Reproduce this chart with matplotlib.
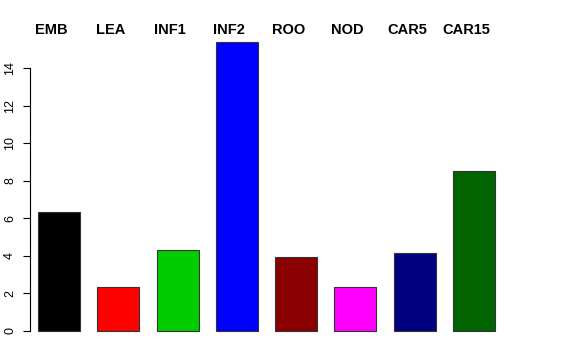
import matplotlib.pyplot as plt
import matplotlib.transforms as mtransforms

plt.rcParams['font.family'] = ['Liberation Sans', 'DejaVu Sans']

tissues = ['EMB', 'LEA', 'INF1', 'INF2', 'ROO', 'NOD', 'CAR5', 'CAR15']
values = [6.36, 2.35, 4.33, 15.39, 3.96, 2.35, 4.17, 8.55]
colors = ['#000000', '#FF0000', '#00CD00', '#0000FF', '#8B0000', '#FF00FF', '#000080', '#006400']

fig = plt.figure(figsize=(5.76, 3.6), dpi=100)
# plot region in pixels: left 30, bottom at y=342.5, top at y=31
ax = fig.add_axes([30 / 576, 17.5 / 360, 530 / 576, 311.5 / 360])

x = list(range(len(tissues)))
ax.bar(x, values, width=0.71, color=colors, edgecolor='#333333', linewidth=0.8)

ax.set_xlim(-0.489, 8.45)
ax.set_ylim(-0.62, 16.0)
ax.set_yticks(range(0, 15, 2))
ax.tick_params(axis='y', length=5, width=0.8, pad=5, labelsize=9, labelrotation=90)
for lab in ax.get_yticklabels():
    lab.set_va('center')
ax.set_xticks([])
for side in ['top', 'right', 'bottom']:
    ax.spines[side].set_visible(False)
ax.spines['left'].set_bounds(0, 14)
ax.spines['left'].set_linewidth(0.8)

# labels above the bars
trans = mtransforms.blended_transform_factory(ax.transData, fig.transFigure)
for xi, name in zip(x, tissues):
    ax.text(xi - 0.13, 1 - 30 / 360, name, transform=trans, ha='center', va='center',
            fontsize=10.5, fontweight='bold')

fig.savefig('out.png', dpi=100)
